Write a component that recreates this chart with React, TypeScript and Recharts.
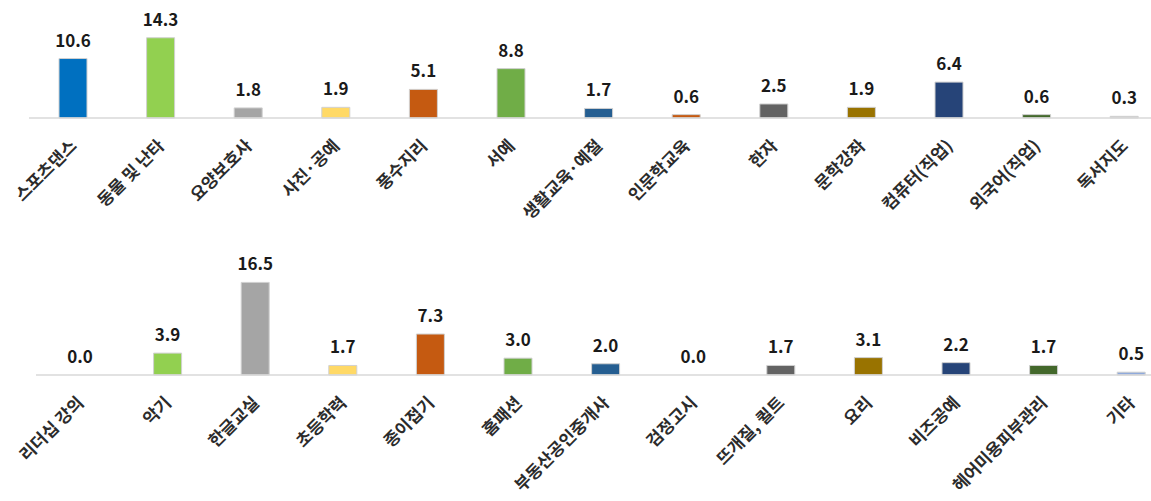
import React from 'react';
import { BarChart, Bar, XAxis, YAxis, Cell, LabelList } from 'recharts';

const topCategories = [
  '스포츠댄스', '동물 및 난타', '요양보호사', '사진·공예', '풍수지리', '서예',
  '생활교육·예절', '인문학교육', '한자', '문학강좌', '컴퓨터(직업)', '외국어(직업)', '독서지도',
];
const topValues = [10.6, 14.3, 1.8, 1.9, 5.1, 8.8, 1.7, 0.6, 2.5, 1.9, 6.4, 0.6, 0.3];
const topColors = [
  '#0070C0', '#92D050', '#A5A5A5', '#FFD966', '#C55A11', '#70AD47',
  '#255E91', '#C55A11', '#636363', '#997300', '#264478', '#43682B', '#C9C9C9',
];

const bottomCategories = [
  '리더십 강의', '악기', '한글교실', '초등학력', '종이접기', '홈패션',
  '부동산공인중개사', '검정고시', '뜨개질, 퀼트', '요리', '비즈공예', '헤어미용피부관리', '기타',
];
const bottomValues = [0.0, 3.9, 16.5, 1.7, 7.3, 3.0, 2.0, 0.0, 1.7, 3.1, 2.2, 1.7, 0.5];
const bottomColors = [
  '#0070C0', '#92D050', '#A5A5A5', '#FFD966', '#C55A11', '#70AD47',
  '#255E91', '#9E480E', '#636363', '#997300', '#264478', '#43682B', '#8FAADC',
];

const FONT = '"Noto Sans CJK KR", "Noto Sans", sans-serif';

const RotatedTick = (props: any) => {
  const { x, y, payload } = props;
  return (
    <g transform={`translate(${x + 5},${y + 21})`}>
      <text
        x={0}
        y={0}
        textAnchor="end"
        transform="rotate(-45)"
        fontFamily={FONT}
        fontSize={17}
        fontWeight={700}
        fill="#2b2b2b"
      >
        {payload.value}
      </text>
    </g>
  );
};

interface RowProps {
  categories: string[];
  values: number[];
  colors: string[];
  top: number;
  height: number;
  marginTop: number;
  marginLeft: number;
}

const BarRow: React.FC<RowProps> = ({ categories, values, colors, top, height, marginTop, marginLeft }) => {
  const data = categories.map((name, i) => ({ name, value: values[i] }));
  return (
    <div style={{ position: 'absolute', left: 0, top }}>
      <BarChart
        width={1180}
        height={height}
        data={data}
        margin={{ top: marginTop, right: 1180 - marginLeft - 13 * 87.6, left: marginLeft, bottom: 0 }}
        barSize={28}
      >
        <XAxis
          dataKey="name"
          interval={0}
          height={height - marginTop - 101}
          tickLine={false}
          axisLine={{ stroke: '#D9D9D9', strokeWidth: 1.5 }}
          tick={<RotatedTick />}
        />
        <YAxis hide domain={[0, 18]} />
        <Bar
          dataKey="value"
          isAnimationActive={false}
          stroke="#D0D0D0"
          strokeWidth={1}
          minPointSize={(v: any) => (Number(v) === 0 ? 0.5 : 0)}
        >
          {data.map((d, i) => (
            <Cell
              key={`cell-${i}`}
              fill={d.value === 0 ? 'none' : colors[i]}
              stroke={d.value === 0 ? 'none' : '#D0D0D0'}
            />
          ))}
          <LabelList
            dataKey="value"
            position="top"
            offset={12}
            formatter={(v: any) => Number(v).toFixed(1)}
            style={{ fontFamily: FONT, fontSize: 17, fontWeight: 700, fill: '#1a1a1a' }}
          />
        </Bar>
      </BarChart>
    </div>
  );
};

export default function App() {
  return (
    <div
      style={{
        position: 'absolute',
        left: 0,
        top: 0,
        width: 1151,
        height: 501,
        overflow: 'hidden',
        background: '#fff',
      }}
    >
      <BarRow
        categories={topCategories}
        values={topValues}
        colors={topColors}
        top={0}
        height={245}
        marginTop={17}
        marginLeft={29}
      />
      <BarRow
        categories={bottomCategories}
        values={bottomValues}
        colors={bottomColors}
        top={245}
        height={256}
        marginTop={29}
        marginLeft={36}
      />
    </div>
  );
}
